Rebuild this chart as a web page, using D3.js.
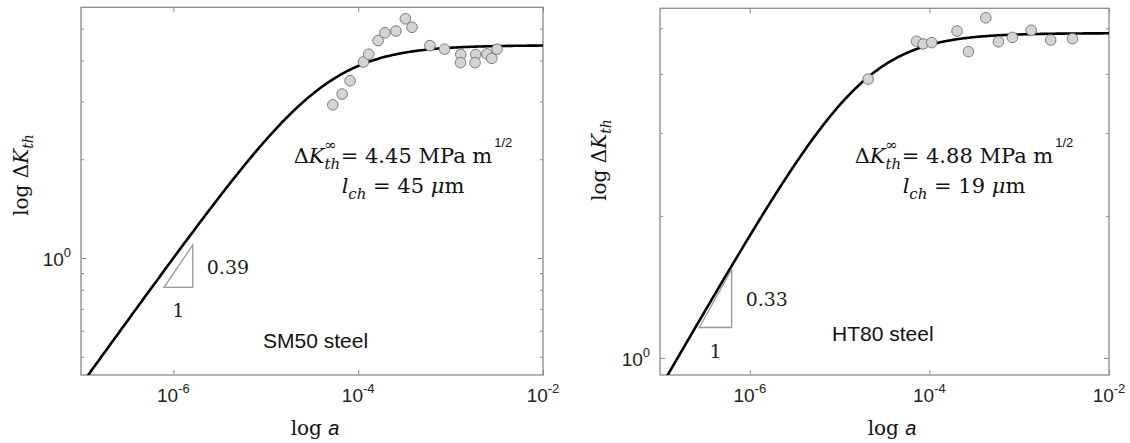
<!DOCTYPE html>
<html>
<head>
<meta charset="utf-8">
<script src="https://cdn.jsdelivr.net/npm/d3@7"></script>
<style>
  body { margin: 0; background: #fff; }
  svg { display: block; }
</style>
</head>
<body>
<div id="chart"></div>
<script>
// crack length a (m) and threshold dK_th (MPa m^1/2)
const smA = [5.31e-5, 6.70e-5, 8.17e-5, 1.14e-4, 1.30e-4, 1.64e-4, 1.95e-4, 2.56e-4, 3.24e-4, 3.82e-4,
             5.97e-4, 8.59e-4, 1.29e-3, 1.28e-3, 1.87e-3, 1.84e-3, 2.47e-3, 2.79e-3, 3.18e-3];
const smK = [2.93, 3.16, 3.47, 3.96, 4.18, 4.60, 4.86, 4.92, 5.36, 5.05,
             4.44, 4.33, 4.17, 3.94, 4.17, 3.94, 4.19, 4.06, 4.33];

const htA = [2.08e-5, 7.19e-5, 8.51e-5, 1.06e-4, 2.03e-4, 2.72e-4, 4.25e-4, 5.87e-4, 8.41e-4, 1.36e-3, 2.24e-3, 3.92e-3];
const htK = [3.90, 4.69, 4.63, 4.66, 4.93, 4.46, 5.26, 4.68, 4.78, 4.95, 4.72, 4.75];

// fit parameters shown in the panels
const smInf = 4.45, smLch = 45e-6, smSlope = 0.39;
const htInf = 4.88, htLch = 19e-6, htSlope = 0.33;

// slope triangles (a range, dK range)
const smTriA = [7.9e-7, 1.62e-6], smTriK = [0.814, 1.096];
const htTriA = [2.74e-7, 6.28e-7], htTriK = [1.16, 1.54];

const xDomain = [1e-7, 1e-2];
const xTicks = [1e-6, 1e-4, 1e-2];
const xTickExp = ['-6', '-4', '-2'];
const smYDomain = [0.44, 5.81];
const htYDomain = [0.92, 5.51];
const smYMinor = [0.5, 0.6, 0.7, 0.8, 0.9, 2, 3, 4, 5];
const htYMinor = [2, 3, 4, 5];
const yMajor = [1];

const svg = d3.select('#chart').append('svg')
    .attr('width', 1130).attr('height', 443);

const serif = "'DejaVu Serif', 'Liberation Serif', serif";
const sans = "'Liberation Sans', Arial, sans-serif";

function drawPanel(p) {
    const x = d3.scaleLog().domain(xDomain).range([p.left, p.right]);
    const y = d3.scaleLog().domain(p.yDomain).range([p.bottom, p.top]);
    const g = svg.append('g');

    g.append('clipPath').attr('id', p.id + '-clip')
      .append('rect')
        .attr('x', p.left).attr('y', p.top)
        .attr('width', p.right - p.left).attr('height', p.bottom - p.top);

    // inward ticks on all four sides
    const tickStyle = sel => {
        sel.select('.domain').remove();
        sel.selectAll('line').attr('stroke', '#8a8a8a').attr('stroke-width', 1);
        sel.selectAll('text').remove();
    };
    g.append('g').attr('transform', `translate(0,${p.bottom})`)
        .call(d3.axisBottom(x).tickValues(xTicks).tickSize(-5)).call(tickStyle);
    g.append('g').attr('transform', `translate(0,${p.top})`)
        .call(d3.axisTop(x).tickValues(xTicks).tickSize(-5)).call(tickStyle);
    g.append('g').attr('transform', `translate(${p.left},0)`)
        .call(d3.axisLeft(y).tickValues(yMajor).tickSize(-5)).call(tickStyle);
    g.append('g').attr('transform', `translate(${p.right},0)`)
        .call(d3.axisRight(y).tickValues(yMajor).tickSize(-5)).call(tickStyle);
    g.append('g').attr('transform', `translate(${p.left},0)`)
        .call(d3.axisLeft(y).tickValues(p.yMinor).tickSize(-3)).call(tickStyle);
    g.append('g').attr('transform', `translate(${p.right},0)`)
        .call(d3.axisRight(y).tickValues(p.yMinor).tickSize(-3)).call(tickStyle);

    // frame
    g.append('rect')
        .attr('x', p.left).attr('y', p.top)
        .attr('width', p.right - p.left).attr('height', p.bottom - p.top)
        .attr('fill', 'none').attr('stroke', '#8a8a8a').attr('stroke-width', 1.3);

    // x tick labels 10^n
    xTicks.forEach((t, i) => {
        const tx = g.append('text')
            .attr('x', x(t)).attr('y', p.bottom + 27)
            .attr('text-anchor', 'middle')
            .attr('font-family', sans).attr('font-size', 19).attr('fill', '#222');
        tx.append('tspan').text('10');
        tx.append('tspan').attr('dy', -9).attr('font-size', 13).text(xTickExp[i]);
    });

    // y tick label 10^0
    const ty = g.append('text')
        .attr('x', p.left - 10).attr('y', y(1) + 8)
        .attr('text-anchor', 'end')
        .attr('font-family', sans).attr('font-size', 19).attr('fill', '#222');
    ty.append('tspan').text('10');
    ty.append('tspan').attr('dy', -9).attr('font-size', 13).text('0');

    // fitted curve
    const curveA = d3.range(-7.05, -1.99, 0.01).map(e => Math.pow(10, e));
    const line = d3.line()
        .x(a => x(a))
        .y(a => y(p.inf * Math.pow(a / (a + p.lch), p.slope)));
    g.append('path')
        .datum(curveA)
        .attr('clip-path', `url(#${p.id}-clip)`)
        .attr('fill', 'none')
        .attr('stroke', '#000')
        .attr('stroke-width', 2.6)
        .attr('d', line);

    // measured points
    g.selectAll('.pt')
        .data(p.a.map((a, i) => ({a: a, k: p.k[i]})))
        .join('circle')
        .attr('cx', d => x(d.a))
        .attr('cy', d => y(d.k))
        .attr('r', 5.3)
        .attr('fill', '#d4d4d4')
        .attr('stroke', '#7a7a7a')
        .attr('stroke-width', 1);

    // slope triangle
    const ta = p.triA, tk = p.triK;
    g.append('path')
        .attr('d', `M${x(ta[0])},${y(tk[0])}L${x(ta[1])},${y(tk[0])}L${x(ta[1])},${y(tk[1])}Z`)
        .attr('fill', 'none').attr('stroke', '#999').attr('stroke-width', 1.3);
    g.append('text')
        .attr('x', x(ta[1]) + 14).attr('y', (y(tk[0]) + y(tk[1])) / 2 + 8)
        .attr('font-family', serif).attr('font-size', 19).attr('fill', '#222')
        .text(p.slope.toFixed(2));
    g.append('text')
        .attr('x', (x(ta[0]) + x(ta[1])) / 2).attr('y', y(tk[0]) + 30)
        .attr('text-anchor', 'middle')
        .attr('font-family', serif).attr('font-size', 19).attr('fill', '#222')
        .text('1');

    // steel label
    g.append('text')
        .attr('x', p.steelX).attr('y', p.steelY)
        .attr('font-family', sans).attr('font-size', 21).attr('fill', '#111')
        .text(p.name);

    // annotation line 1: dK_th^inf = ... MPa m^1/2
    const t1 = g.append('text')
        .attr('x', p.noteX).attr('y', p.noteY)
        .attr('text-anchor', 'middle')
        .attr('font-family', serif).attr('font-size', 21).attr('fill', '#111');
    t1.append('tspan').text('\u0394');
    t1.append('tspan').attr('font-style', 'italic').text('K');
    t1.append('tspan').attr('font-style', 'italic').attr('font-size', 15).attr('dy', 6).text('th');
    t1.append('tspan').attr('font-size', 15).attr('dx', -16).attr('dy', -19).text('\u221e');
    t1.append('tspan').attr('dx', 4).attr('dy', 13).text('= ' + p.inf.toFixed(2) + ' MPa m');
    t1.append('tspan').attr('font-family', sans).attr('font-size', 13).attr('dx', 2).attr('dy', -16).text('1/2');

    // annotation line 2: l_ch = .. um
    const t2 = g.append('text')
        .attr('x', p.noteX).attr('y', p.noteY + 30)
        .attr('text-anchor', 'middle')
        .attr('font-family', serif).attr('font-size', 21).attr('fill', '#111');
    t2.append('tspan').attr('font-style', 'italic').text('l');
    t2.append('tspan').attr('font-style', 'italic').attr('font-size', 15).attr('dy', 6).text('ch');
    t2.append('tspan').attr('dy', -6).text(' = ' + Math.round(p.lch * 1e6) + ' ');
    t2.append('tspan').attr('font-style', 'italic').text('\u03bc');
    t2.append('tspan').text('m');

    // axis titles
    const xl = g.append('text')
        .attr('x', p.xLabelX).attr('y', 435)
        .attr('text-anchor', 'middle')
        .attr('font-family', serif).attr('font-size', 20).attr('fill', '#111');
    xl.append('tspan').text('log ');
    xl.append('tspan').attr('font-family', sans).attr('font-style', 'italic').text('a');

    const yl = g.append('text')
        .attr('transform', `translate(${p.yLabelX},${p.yLabelY}) rotate(-90)`)
        .attr('text-anchor', 'middle')
        .attr('font-family', serif).attr('font-size', 20).attr('fill', '#111');
    yl.append('tspan').text('log \u0394');
    yl.append('tspan').attr('font-style', 'italic').text('K');
    yl.append('tspan').attr('font-style', 'italic').attr('font-size', 14).attr('dy', 5).text('th');
}

drawPanel({
    id: 'sm', name: 'SM50 steel',
    left: 81, right: 543, top: 7.3, bottom: 375,
    yDomain: smYDomain, yMinor: smYMinor,
    a: smA, k: smK, inf: smInf, lch: smLch, slope: smSlope,
    triA: smTriA, triK: smTriK,
    steelX: 263, steelY: 348,
    noteX: 403, noteY: 163,
    xLabelX: 315, yLabelX: 28, yLabelY: 175
});

drawPanel({
    id: 'ht', name: 'HT80 steel',
    left: 660, right: 1109, top: 8.3, bottom: 375,
    yDomain: htYDomain, yMinor: htYMinor,
    a: htA, k: htK, inf: htInf, lch: htLch, slope: htSlope,
    triA: htTriA, triK: htTriK,
    steelX: 832, steelY: 341,
    noteX: 964, noteY: 163,
    xLabelX: 892, yLabelX: 606, yLabelY: 160
});
</script>
</body>
</html>
